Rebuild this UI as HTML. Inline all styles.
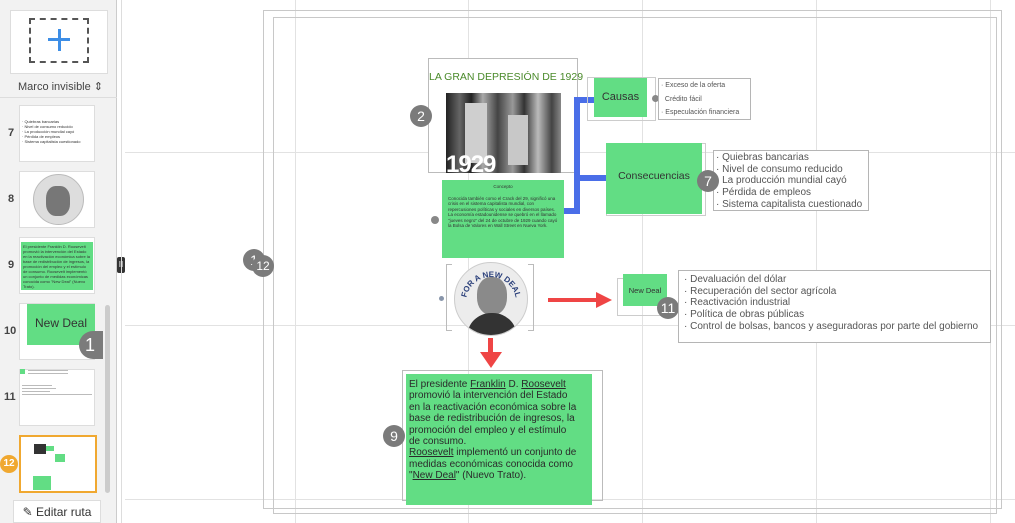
<!DOCTYPE html>
<html><head><meta charset="utf-8"><style>
*{box-sizing:border-box;margin:0;padding:0}
body{width:1015px;height:523px;overflow:hidden;background:#fff;font-family:"Liberation Sans",sans-serif;position:relative}
.a{position:absolute}
.g{background:#62dd84}
.badge{position:absolute;width:22px;height:22px;border-radius:50%;background:#7b7b7b;color:#fff;font-size:14px;text-align:center;line-height:22px}
.hl{position:absolute;height:1px;background:#e2e2e2}
.vl{position:absolute;width:1px;background:#e2e2e2}
.frame{position:absolute;border:1.5px solid #c8c8c8}
.list{position:absolute;border:1px solid #b5b5b5;background:#fff;color:#555}
u{text-decoration:underline}
</style></head><body>
<!-- sidebar -->
<div class="a" style="left:0;top:0;width:117px;height:523px;background:#f2f2f2;border-right:1px solid #ccc"></div>
<div class="a" style="left:10px;top:10px;width:98px;height:64px;background:#fff;border:1px solid #ddd"></div>
<div class="a" style="left:29px;top:18px;width:60px;height:45px;border:2px dashed #555"></div>
<div class="a" style="left:48px;top:38px;width:22px;height:3px;background:#3d8ee6"></div>
<div class="a" style="left:57.5px;top:29px;width:3px;height:22px;background:#3d8ee6"></div>
<div class="a" style="left:18px;top:80px;font-size:11px;color:#444">Marco invisible &#8661;</div>
<div class="a" style="left:0;top:97px;width:117px;height:1px;background:#ddd"></div>
<div class="a" style="left:8px;top:127px;font-size:11px;font-weight:bold;color:#444">7</div>
<div class="a" style="left:19px;top:105px;width:76px;height:57px;background:#fff;border:1px solid #ddd;font-size:4px;color:#333;padding:13px 2px;line-height:5px">· Quiebras bancarias<br>· Nivel de consumo reducido<br>· La producción mundial cayó<br>· Pérdida de empleos<br>· Sistema capitalista cuestionado</div>
<div class="a" style="left:8px;top:193px;font-size:11px;font-weight:bold;color:#444">8</div>
<div class="a" style="left:19px;top:171px;width:76px;height:57px;background:#fff;border:1px solid #ddd"></div>
<div class="a" style="left:33px;top:174px;width:51px;height:51px;border-radius:50%;background:#ddd;border:1px solid #bbb"></div>
<div class="a" style="left:46px;top:186px;width:24px;height:30px;border-radius:40%;background:#777"></div>
<div class="a" style="left:8px;top:259px;font-size:11px;font-weight:bold;color:#444">9</div>
<div class="a" style="left:19px;top:237px;width:76px;height:57px;background:#fff;border:1px solid #ddd"></div>
<div class="a g" style="left:21px;top:242px;width:72px;height:48px;font-size:4px;line-height:5px;color:#333;padding:2px">El presidente Franklin D. Roosevelt promovió la intervención del Estado en la reactivación económica sobre la base de redistribución de ingresos, la promoción del empleo y el estímulo de consumo. Roosevelt implementó un conjunto de medidas económicas conocida como "New Deal" (Nuevo Trato).</div>
<div class="a" style="left:4px;top:325px;font-size:11px;font-weight:bold;color:#444">10</div>
<div class="a" style="left:19px;top:303px;width:76px;height:57px;background:#fff;border:1px solid #ddd"></div>
<div class="a g" style="left:27px;top:304px;width:68px;height:41px;font-size:12px;color:#333;text-align:center;line-height:38px">New Deal</div>
<div class="a" style="left:79px;top:331px;width:24px;height:28px;border-radius:14px 0 0 14px;background:#7b7b7b;color:#fff;font-size:18px;padding-left:6px;line-height:28px">1</div>
<div class="a" style="left:4px;top:391px;font-size:11px;font-weight:bold;color:#444">11</div>
<div class="a" style="left:19px;top:369px;width:76px;height:57px;background:#fff;border:1px solid #ddd"></div>
<div class="a g" style="left:20px;top:369px;width:5px;height:5px"></div>
<div class="a" style="left:28px;top:370px;width:40px;height:1px;background:#bbb"></div>
<div class="a" style="left:28px;top:373px;width:40px;height:1px;background:#bbb"></div>
<div class="a" style="left:22px;top:385px;width:30px;height:1px;background:#bbb"></div>
<div class="a" style="left:22px;top:388px;width:34px;height:1px;background:#bbb"></div>
<div class="a" style="left:22px;top:391px;width:28px;height:1px;background:#bbb"></div>
<div class="a" style="left:22px;top:394px;width:70px;height:1px;background:#bbb"></div>
<div class="a" style="left:19px;top:435px;width:78px;height:58px;background:#fff;border:2px solid #f0a830"></div>
<div class="a" style="left:34px;top:444px;width:12px;height:10px;background:#333"></div>
<div class="a g" style="left:46px;top:446px;width:8px;height:5px"></div>
<div class="a g" style="left:55px;top:454px;width:10px;height:8px"></div>
<div class="a g" style="left:33px;top:476px;width:18px;height:14px"></div>
<div class="a" style="left:0;top:455px;width:18px;height:18px;border-radius:50%;background:#f0a830;color:#fff;font-size:10px;font-weight:bold;text-align:center;line-height:18px">12</div>
<div class="a" style="left:105px;top:305px;width:5px;height:188px;background:#ccc;border-radius:3px"></div>
<div class="a" style="left:13px;top:500px;width:88px;height:23px;background:#fff;border:1px solid #ddd;font-size:12px;color:#333;text-align:center;line-height:22px">&#9998; Editar ruta</div>
<div class="a" style="left:117px;top:257px;width:8px;height:16px;background:#333;border-radius:2px;color:#fff;font-size:8px;text-align:center;line-height:16px">II</div>

<!-- grid -->
<div class="hl" style="left:125px;top:152px;width:890px"></div>
<div class="hl" style="left:125px;top:325px;width:890px"></div>
<div class="hl" style="left:125px;top:499px;width:890px"></div>
<div class="vl" style="left:295px;top:0;height:523px"></div>
<div class="vl" style="left:468px;top:0;height:523px"></div>
<div class="vl" style="left:642px;top:0;height:523px"></div>
<div class="vl" style="left:816px;top:0;height:523px"></div>
<div class="vl" style="left:990px;top:0;height:523px"></div>
<div class="vl" style="left:121px;top:0;height:523px;background:#ddd"></div>
<!-- frames -->
<div class="frame" style="left:263px;top:10px;width:739px;height:499px"></div>
<div class="frame" style="left:273px;top:17px;width:724px;height:497px"></div>
<div class="badge" style="left:243px;top:249px">1</div>
<div class="badge" style="left:252px;top:255px;font-size:12px">12</div>

<!-- title box -->
<div class="a" style="left:428px;top:58px;width:150px;height:115px;border:1px solid #bbb;background:#fff"></div>
<div class="a" style="left:429px;top:71px;width:150px;font-size:10.5px;color:#4a8a2a;white-space:nowrap">LA GRAN DEPRESIÓN DE 1929</div>
<div class="a" style="left:446px;top:93px;width:115px;height:80px;background:linear-gradient(90deg,#222 0,#666 12%,#222 22%,#aaa 32%,#444 45%,#999 58%,#333 68%,#bbb 80%,#444 92%,#888 100%)"></div>
<div class="a" style="left:465px;top:103px;width:22px;height:60px;background:#cfcfcf"></div>
<div class="a" style="left:508px;top:115px;width:20px;height:50px;background:#c8c8c8"></div>
<div class="a" style="left:446px;top:151px;font-size:24px;font-weight:bold;color:#fff;letter-spacing:-1px">1929</div>
<div class="badge" style="left:410px;top:105px">2</div>

<!-- blue connectors -->
<div class="a" style="left:574px;top:97px;width:6px;height:117px;background:#4a6ee8"></div>
<div class="a" style="left:574px;top:97px;width:20px;height:6px;background:#4a6ee8"></div>
<div class="a" style="left:574px;top:175px;width:33px;height:6px;background:#4a6ee8"></div>
<div class="a" style="left:563px;top:208px;width:17px;height:6px;background:#4a6ee8"></div>

<!-- concepto -->
<div class="a g" style="left:442px;top:180px;width:122px;height:78px;font-size:4.5px;color:#333;line-height:5.5px;padding:4px 6px">
<div style="text-align:center;margin-bottom:6px">Concepto</div>
Conocida también como el Crack del 29, significó una crisis en el sistema capitalista mundial, con repercusiones políticas y sociales en diversos países.<br>La economía estadounidense se quebró en el llamado "jueves negro" del 24 de octubre de 1929 cuando cayó la Bolsa de Valores en Wall Street en Nueva York.</div>
<div class="a" style="left:431px;top:216px;width:8px;height:8px;border-radius:50%;background:#888"></div>

<!-- causas -->
<div class="a" style="left:587px;top:77px;width:69px;height:44px;border:1px solid #ccc"></div>
<div class="a g" style="left:594px;top:78px;width:53px;height:39px;font-size:11px;color:#333;text-align:center;line-height:39px">Causas</div>
<div class="a" style="left:652px;top:95px;width:7px;height:7px;border-radius:50%;background:#888"></div>
<div class="list" style="left:658px;top:78px;width:93px;height:42px;font-size:7px;line-height:13.5px;padding-left:2px">· Exceso de la oferta<br>&nbsp;&nbsp;Crédito fácil<br>· Especulación financiera</div>

<!-- consecuencias -->
<div class="a" style="left:606px;top:143px;width:100px;height:73px;border:1px solid #ccc"></div>
<div class="a g" style="left:606px;top:143px;width:96px;height:71px;font-size:10.5px;color:#333;text-align:center;line-height:66px">Consecuencias</div>
<div class="list" style="left:713px;top:150px;width:156px;height:61px;font-size:10px;line-height:11.7px;padding:1px 2px;white-space:nowrap">· Quiebras bancarias<br>· Nivel de consumo reducido<br>· La producción mundial cayó<br>· Pérdida de empleos<br>· Sistema capitalista cuestionado</div>
<div class="badge" style="left:697px;top:170px">7</div>

<!-- badge FDR -->
<div class="a" style="left:446px;top:264px;width:6px;height:67px;border:1px solid #bbb;border-right:none"></div>
<div class="a" style="left:528px;top:264px;width:6px;height:67px;border:1px solid #bbb;border-left:none"></div>
<div class="a" style="left:454px;top:262px;width:74px;height:74px;border-radius:50%;background:#ececec;border:1px solid #ccc;overflow:hidden">
  <div class="a" style="left:22px;top:14px;width:30px;height:38px;border-radius:45%;background:#8a8a8a"></div>
  <div class="a" style="left:12px;top:50px;width:50px;height:26px;border-radius:24px 24px 0 0;background:#333"></div>
</div>
<svg class="a" style="left:454px;top:262px" width="74" height="74">
<defs><path id="arc" d="M12,40 A25,25 0 0 1 62,40"/></defs>
<text font-family="Liberation Sans" font-size="8" font-weight="bold" fill="#2a3f7a"><textPath href="#arc" startOffset="50%" text-anchor="middle">FOR A NEW DEAL</textPath></text>
</svg>
<div class="a" style="left:439px;top:296px;width:5px;height:5px;border-radius:50%;background:#8895aa"></div>

<!-- red arrows -->
<div class="a" style="left:548px;top:298px;width:52px;height:4px;background:#ef4545"></div>
<svg class="a" style="left:596px;top:292px" width="16" height="16"><polygon points="0,0 16,8 0,16" fill="#ef4545"/></svg>
<div class="a" style="left:488px;top:338px;width:5px;height:16px;background:#ef4545"></div>
<svg class="a" style="left:480px;top:352px" width="22" height="16"><polygon points="0,0 22,0 11,16" fill="#ef4545"/></svg>

<!-- new deal -->
<div class="a" style="left:617px;top:278px;width:50px;height:38px;border:1px solid #ccc;border-right:none"></div>
<div class="a g" style="left:623px;top:274px;width:44px;height:32px;font-size:7.5px;color:#333;text-align:center;line-height:34px">New Deal</div>
<div class="badge" style="left:657px;top:297px">11</div>
<div class="list" style="left:678px;top:270px;width:313px;height:73px;font-size:10px;line-height:11.7px;padding:3px 5px">· Devaluación del dólar<br>· Recuperación del sector agrícola<br>· Reactivación industrial<br>· Política de obras públicas<br>· Control de bolsas, bancos y aseguradoras por parte del gobierno</div>

<!-- bottom text -->
<div class="a" style="left:402px;top:370px;width:201px;height:131px;border:1px solid #bbb"></div>
<div class="a g" style="left:406px;top:374px;width:186px;height:131px;font-size:10px;line-height:11.4px;color:#2a2a2a;padding:5px 14px 5px 3px">El presidente <u>Franklin</u> D. <u>Roosevelt</u> promovió la intervención del Estado en la reactivación económica sobre la base de redistribución de ingresos, la promoción del empleo y el estímulo de consumo.<br><u>Roosevelt</u> implementó un conjunto de medidas económicas conocida como "<u>New Deal</u>" (Nuevo Trato).</div>
<div class="badge" style="left:383px;top:425px">9</div>
</body></html>
